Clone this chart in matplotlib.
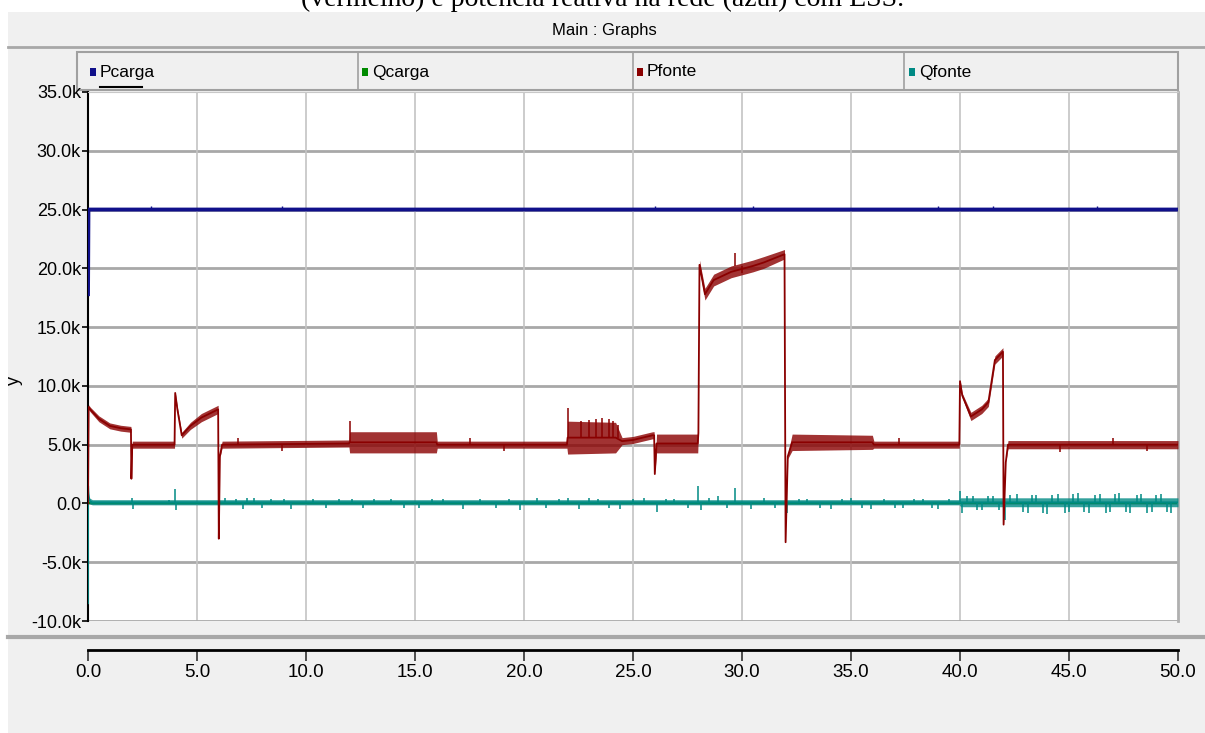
import numpy as np
import matplotlib
matplotlib.use('Agg')
import matplotlib.pyplot as plt
from matplotlib.patches import Rectangle
from matplotlib.lines import Line2D

plt.rcParams['font.family'] = ['Liberation Sans Narrow', 'Liberation Sans', 'DejaVu Sans']

# ---- data (values in kW, time in s) ----
series_names = ['Pcarga', 'Qcarga', 'Pfonte', 'Qfonte']
series_colors = ['#10108a', '#008a00', '#8a0000', '#008a84']

t_pc = [0.0, 0.02, 50.0]
v_pc = [17.8, 25.0, 25.0]
pc_tick_t = [2.9, 8.9, 26.0, 30.5, 39.0, 41.5, 46.3]
pc_tick_v = [25.3, 25.3, 25.3, 25.3, 25.3, 25.3, 25.3]

t_qc = [0.0, 50.0]
v_qc = [0.0, 0.0]

t_pf = [0.0, 0.03, 0.1, 0.5, 1.0, 1.5, 1.97, 1.99, 2.03, 3.97,
        4.0, 4.1, 4.3, 4.7, 5.2, 5.97, 6.0, 6.05, 6.15, 11.97,
        12.0, 15.98, 16.02, 21.97, 22.0, 24.2, 24.5, 25.0, 25.9, 25.97,
        26.0, 26.08, 27.97, 28.0, 28.05, 28.3, 28.7, 29.5, 30.5, 31.0,
        31.95, 32.0, 32.1, 32.3, 35.98, 36.05, 39.97, 40.0, 40.1, 40.5,
        41.0, 41.3, 41.6, 41.97, 42.0, 42.1, 42.2, 50.0]
v_pf = [0.0, 8.2, 8.0, 7.2, 6.6, 6.4, 6.3, 2.1, 5.0, 5.0,
        9.4, 8.0, 5.8, 6.6, 7.3, 8.0, -3.0, 4.0, 5.0, 5.1,
        5.2, 5.2, 5.0, 5.0, 5.6, 5.6, 5.3, 5.4, 5.8, 5.8,
        2.5, 5.1, 5.1, 6.0, 20.3, 17.8, 19.0, 19.7, 20.2, 20.5,
        21.2, -3.3, 4.0, 5.2, 5.2, 5.0, 5.0, 10.4, 9.2, 7.4,
        8.0, 8.6, 12.2, 12.9, -1.8, 3.5, 5.0, 5.0]
w_pf = [0.0, 0.2, 0.2, 0.25, 0.25, 0.25, 0.25, 0.0, 0.3, 0.3,
        0.1, 0.2, 0.25, 0.3, 0.35, 0.35, 0.0, 0.1, 0.3, 0.3,
        0.9, 0.9, 0.3, 0.3, 1.4, 1.3, 0.3, 0.3, 0.3, 0.3,
        0.0, 0.8, 0.8, 0.0, 0.4, 0.5, 0.5, 0.5, 0.5, 0.5,
        0.4, 0.0, 0.2, 0.7, 0.6, 0.3, 0.3, 0.15, 0.2, 0.35,
        0.35, 0.35, 0.35, 0.35, 0.0, 0.0, 0.35, 0.35]
pf_spike_t = [12.0, 22.0, 22.6, 23.0, 23.3, 23.6, 23.9, 24.1, 24.3, 29.7, 30.0, 6.9, 8.9,
              44.6, 17.5, 19.1, 37.2, 47.0, 48.6]
pf_spike_v = [7.0, 8.1, 7.0, 7.1, 7.2, 7.3, 7.2, 7.0, 6.7, 21.3, 19.6, 5.6, 4.5,
              4.4, 5.6, 4.5, 5.6, 5.6, 4.5]
pf_spike_base = [5.2, 5.6, 5.6, 5.6, 5.6, 5.6, 5.6, 5.6, 5.6, 20.2, 20.2, 5.0, 5.0,
                 5.0, 5.0, 5.0, 5.0, 5.0, 5.0]

t_qf = [0.0, 0.01, 0.03, 0.08, 0.2, 39.97, 40.03, 50.0]
v_qf = [-8.5, 1.5, 0.6, 0.2, 0.1, 0.1, 0.1, 0.1]
w_qf = [0.0, 0.0, 0.25, 0.25, 0.22, 0.22, 0.38, 0.38]
qf_spike_t = [2.0, 2.05, 3.7, 4.0, 4.05, 6.0, 6.3, 6.8, 7.1, 7.3, 7.6, 8.0, 8.4, 9.0, 9.3,
              10.3, 10.9, 11.5, 12.1, 12.6, 13.1, 13.9, 14.5, 15.2, 15.8, 16.3, 17.2,
              18.0, 18.7, 19.3, 19.8, 20.6, 21.0, 21.6, 22.0, 22.5, 23.0, 23.4, 23.9,
              24.4, 25.0, 25.5, 26.1, 26.5, 26.9, 27.5, 28.0, 28.1, 28.5, 28.9, 29.3,
              29.7, 30.4, 31.0, 31.5, 32.05, 32.6, 33.0, 33.6, 34.1, 34.6, 35.0, 35.5,
              35.9, 36.5, 37.0, 37.4, 37.9, 38.3, 38.7, 39.0, 39.5,
              40.0, 40.1, 40.3, 40.6, 40.8, 41.0, 41.3, 41.5, 41.8, 42.05, 42.3, 42.6,
              42.9, 43.1, 43.3, 43.5, 43.8, 44.0, 44.2, 44.5, 44.8, 45.0, 45.2, 45.4,
              45.7, 45.9, 46.2, 46.4, 46.7, 46.9, 47.1, 47.3, 47.6, 47.8, 48.1, 48.3,
              48.6, 48.8, 49.0, 49.2, 49.5, 49.7]
qf_spike_v = [0.5, -0.5, 0.3, 1.2, -0.6, -1.0, 0.5, 0.4, -0.5, 0.5, 0.5, -0.4, 0.4, 0.4, -0.5,
              0.4, -0.4, 0.4, 0.4, -0.4, 0.4, 0.4, -0.4, -0.4, 0.4, 0.4, -0.5,
              0.4, -0.4, 0.4, -0.6, 0.5, -0.4, 0.4, 0.5, -0.5, 0.5, 0.4, -0.4,
              -0.5, 0.4, 0.5, -0.7, 0.4, 0.4, -0.4, 1.5, -0.6, 0.5, 0.6, -0.4,
              1.3, -0.5, 0.5, -0.4, -0.8, 0.4, 0.4, -0.4, -0.5, 0.4, 0.5, -0.4,
              -0.5, 0.4, -0.4, -0.4, 0.4, 0.4, -0.4, -0.5, 0.4,
              1.1, -0.8, 0.6, 0.6, -0.6, -0.6, 0.6, 0.6, -0.6, -1.4, 0.7, 0.8,
              -0.7, -0.8, 0.7, 0.7, -0.8, -0.9, 0.7, 0.8, -0.8, -0.7, 0.8, 0.9,
              -0.7, -0.8, 0.7, 0.8, -0.8, -0.7, 0.8, 0.9, -0.7, -0.8, 0.7, 0.8,
              -0.8, -0.7, 0.7, 0.8, -0.7, -0.8]

yticks = [-10, -5, 0, 5, 10, 15, 20, 25, 30, 35]
ytick_labels = ['-10.0k', '-5.0k', '0.0', '5.0k', '10.0k', '15.0k', '20.0k', '25.0k', '30.0k', '35.0k']
xticks = [0, 5, 10, 15, 20, 25, 30, 35, 40, 45, 50]
xtick_labels = ['0.0', '5.0', '10.0', '15.0', '20.0', '25.0', '30.0', '35.0', '40.0', '45.0', '50.0']

W, H = 1205, 733
def fx(px):
    return px / W
def fy(py):
    return 1 - py / H

fig = plt.figure(figsize=(W / 100, H / 100), dpi=100, facecolor='white')

# window background
fig.patches.append(Rectangle((fx(8), 0), 1, fy(12), transform=fig.transFigure,
                             facecolor='#f0f0f0', edgecolor='none', zorder=0))
# caption cut off at top
fig.text(0.5, fy(6), '(vermelho) e potência reativa na rede (azul) com ESS.',
         ha='center', va='baseline', fontsize=20, family=['Liberation Serif', 'DejaVu Serif'])
fig.text(fx(604), fy(30), 'Main : Graphs', ha='center', va='center', fontsize=12)
fig.lines.append(Line2D([fx(8), 1], [fy(47), fy(47)], transform=fig.transFigure,
                        color='#a8a8a8', lw=2))
# legend bar
fig.patches.append(Rectangle((fx(77), fy(90)), fx(1178) - fx(77), fy(52) - fy(90),
                             transform=fig.transFigure, facecolor='#f0f0f0',
                             edgecolor='#a0a0a0', lw=1.5, zorder=1))
for xd in [358, 633, 904]:
    fig.lines.append(Line2D([fx(xd), fx(xd)], [fy(52), fy(90)], transform=fig.transFigure,
                            color='#a0a0a0', lw=1.2))
for xm, name, col in zip([93, 365, 640, 912], series_names, series_colors):
    fig.patches.append(Rectangle((fx(xm - 3), fy(76)), fx(6), 8 / H, transform=fig.transFigure,
                                 facecolor=col, edgecolor='none', zorder=3))
    fig.text(fx(xm + 7), fy(72), name, ha='left', va='center', fontsize=12.5, zorder=3)
fig.lines.append(Line2D([fx(100), fx(142)], [fy(87), fy(87)], transform=fig.transFigure,
                        color='black', lw=1.5))
# separator above x axis
fig.lines.append(Line2D([fx(8), 1], [fy(637), fy(637)], transform=fig.transFigure,
                        color='#a8a8a8', lw=3))

ax = fig.add_axes([fx(88), fy(621), fx(1178) - fx(88), fy(92) - fy(621)])
ax.set_zorder(10)
ax.set_facecolor('white')
# move x axis below the plot box first (this resets the tick settings)
ax.spines['bottom'].set_position(('outward', 21))

k = 1000.0
tpf = np.array(t_pf)
vpf = np.array(v_pf) * k
wpf = np.array(w_pf) * k
tqf = np.array(t_qf)
vqf = np.array(v_qf) * k
wqf = np.array(w_qf) * k

ax.plot(t_qc, np.array(v_qc) * k, color=series_colors[1], lw=1.5, zorder=2)
ax.fill_between(tqf, vqf - wqf, vqf + wqf, color=series_colors[3], alpha=0.8, lw=0, zorder=3)
ax.plot(tqf, vqf, color=series_colors[3], lw=1.2, zorder=3)
ax.vlines(qf_spike_t, np.array(v_qf[-1]) * k, np.array(qf_spike_v) * k,
          color=series_colors[3], lw=1.1, zorder=3)

ax.fill_between(tpf, vpf - wpf, vpf + wpf, color=series_colors[2], alpha=0.8, lw=0, zorder=4)
ax.plot(tpf, vpf, color=series_colors[2], lw=1.3, zorder=4)
ax.vlines(pf_spike_t, np.array(pf_spike_base) * k, np.array(pf_spike_v) * k,
          color=series_colors[2], lw=1.1, zorder=4)

ax.plot(t_pc, np.array(v_pc) * k, color=series_colors[0], lw=2.8, zorder=5)
ax.vlines(pc_tick_t, v_pc[-1] * k, np.array(pc_tick_v) * k, color=series_colors[0], lw=1, zorder=5)

ax.set_xlim(0, 50)
ax.set_ylim(-10 * k, 35 * k)
ax.set_yticks(np.array(yticks) * k)
ax.set_yticklabels(ytick_labels, fontsize=13)
ax.set_xticks(xticks)
ax.set_xticklabels(xtick_labels, fontsize=13.5)

for yv in yticks[1:-1]:
    ax.axhline(yv * k, color='#a8a8a8', lw=2, zorder=1)
for xv in xticks[1:-1]:
    ax.axvline(xv, color='#c4c4c4', lw=1.2, zorder=1)
ax.axhline(-10 * k, color='#a8a8a8', lw=2, zorder=1)

ax.spines['left'].set_color('black')
ax.spines['left'].set_linewidth(1.5)
ax.spines['right'].set_color('#b0b0b0')
ax.spines['right'].set_linewidth(2)
ax.spines['top'].set_color('#c8c8c8')
ax.spines['bottom'].set_color('black')
ax.spines['bottom'].set_linewidth(2)
ax.tick_params(axis='y', direction='out', length=4, width=1.2, pad=1, labelsize=13)
ax.tick_params(axis='x', direction='out', length=8, width=1.2, pad=2, color='#303030',
               labelsize=13.5)

fig.text(fx(14), fy(380), 'y', rotation=90, ha='center', va='center', fontsize=13)

fig.savefig('out.png', dpi=100, facecolor=fig.get_facecolor())
